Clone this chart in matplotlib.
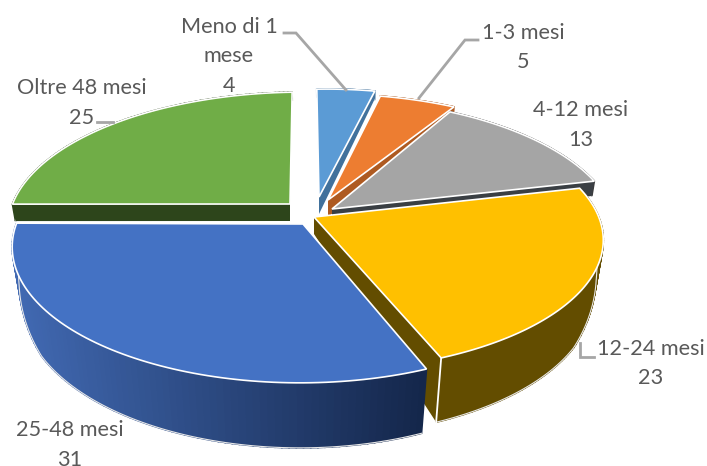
import numpy as np
import matplotlib
matplotlib.use("Agg")
import matplotlib.pyplot as plt
from matplotlib.colors import to_rgb

# --- data
categories = ["Meno di 1 mese", "1-3 mesi", "4-12 mesi", "12-24 mesi", "25-48 mesi", "Oltre 48 mesi"]
values = [4, 5, 13, 23, 31, 25]

# --- style / layout
top_colors = ["#5b9bd5", "#ed7d31", "#a5a5a5", "#ffc000", "#4472c4", "#70ad47"]
side_from = ["#41719c", "#ae5a21", "#4a4a4a", "#634d00", "#4169b2", "#2d451b"]
side_to = ["#41719c", "#ae5a21", "#3a3a3a", "#634d00", "#14264a", "#2d451b"]
cut_colors = ["#41719c", "#ae5a21", "#3a3f44", "#634d00", "#14264a", "#2d451b"]
arc_centres = [(327, 202), (330, 207), (326, 212), (314, 218), (300, 224), (303, 205)]
x_scale = [0.95, 1, 1, 0.99, 0.985, 1.01]
y_scale = [1, 1, 1, 0.965, 1, 1]
tips = [(319, 197), (328, 200), (332, 209), (314, 217), (303, 224), (290, 204)]
label_lines = [["Meno di 1", "mese", "4"], ["1-3 mesi", "5"], ["4-12 mesi", "13"],
               ["12-24 mesi", "23"], ["25-48 mesi", "31"], ["Oltre 48 mesi", "25"]]
label_pos = [(229, 27), (523, 33), (581, 110), (651, 349), (70, 430), (82, 88)]
label_line_gap = 29.5
leaders = [[(284, 33), (296, 33), (346, 90)], [(478, 40), (465, 40), (419, 98)], None,
           [(580, 343), (580, 357), (594, 357)], None, [(97, 122), (113, 122)]]
R, A, K = 288.0, 132.0, 0.169
TXT = "#595959"


def warp(deg):
    return deg + np.interp(deg, [0, 160, 270, 360], [-2.5, -2.5, -0.5, -2.5])


def project(theta):
    u, v = np.sin(theta), np.cos(theta)
    den = 1 + K * v
    return R * u / den, -A * v / den, v


def depth(v):
    return np.interp(v, [-1, -0.5, -0.17, 0, 1], [65, 60, 40, 17, 8])


def lerp(c1, c2, t):
    a, b = np.array(to_rgb(c1)), np.array(to_rgb(c2))
    return tuple(a + (b - a) * t)


fig = plt.figure(figsize=(7.07, 4.66), dpi=100)
ax = fig.add_axes([0, 0, 1, 1])
ax.set_xlim(0, 707)
ax.set_ylim(466, 0)
ax.axis("off")

cum = np.concatenate([[0], np.cumsum(values)]) / np.sum(values) * 360.0
edges = np.deg2rad(warp(cum))

XMIN, XMAX = 15, 430
for i, val in enumerate(values):
    cx, cy = arc_centres[i]
    tx, ty = tips[i]
    th = np.linspace(edges[i], edges[i + 1], 90)
    px, py, v = project(th)
    px, py = px * x_scale[i], py * y_scale[i]
    x, y = cx + px, cy + py
    d = depth(v)
    bx = cx + px * (1 - 0.04 * d / 65)
    by = y + d
    z = 0 if i == 5 else 2 * i + 1
    # outer side
    for j in range(len(th) - 1):
        if i == 4:
            t = np.clip((x[j] - XMIN) / (XMAX - XMIN), 0, 1)
        else:
            t = j / (len(th) - 2)
        c = lerp(side_from[i], side_to[i], t)
        ax.fill([x[j], x[j + 1], bx[j + 1], bx[j]], [y[j], y[j + 1], by[j + 1], by[j]],
                facecolor=c, edgecolor=c, lw=1.2, zorder=z)
    ax.plot(bx, by, color="#e8e8e8", lw=0.8, zorder=z + 0.1)
    # cut faces
    k = 0 if i == 5 else -1
    tip_d = depth(0.0)
    ax.fill([tx, x[k], bx[k], tx], [ty, y[k], by[k], ty + tip_d], color=cut_colors[i], lw=0, zorder=z + 0.2)
    if i == 3:
        ax.plot([x[-1], bx[-1]], [y[-1], by[-1]], color="white", lw=1.3, zorder=z + 0.3)
    # top face
    ax.fill(np.r_[tx, x], np.r_[ty, y], facecolor=top_colors[i], edgecolor="white",
            lw=1.2, joinstyle="miter", zorder=z + 0.5)

for i, (seg, lab, (lx, ly)) in enumerate(zip(leaders, label_lines, label_pos)):
    if seg is not None:
        sx, sy = zip(*seg)
        ax.plot(sx, sy, color="#a6a6a6", lw=2, zorder=30, solid_joinstyle="miter")
    for n, line in enumerate(lab):
        ax.text(lx, ly + n * label_line_gap, line, ha="center", va="center",
                family="Lato", fontsize=15.6, color=TXT, zorder=31)

fig.savefig("out.png", dpi=100)
